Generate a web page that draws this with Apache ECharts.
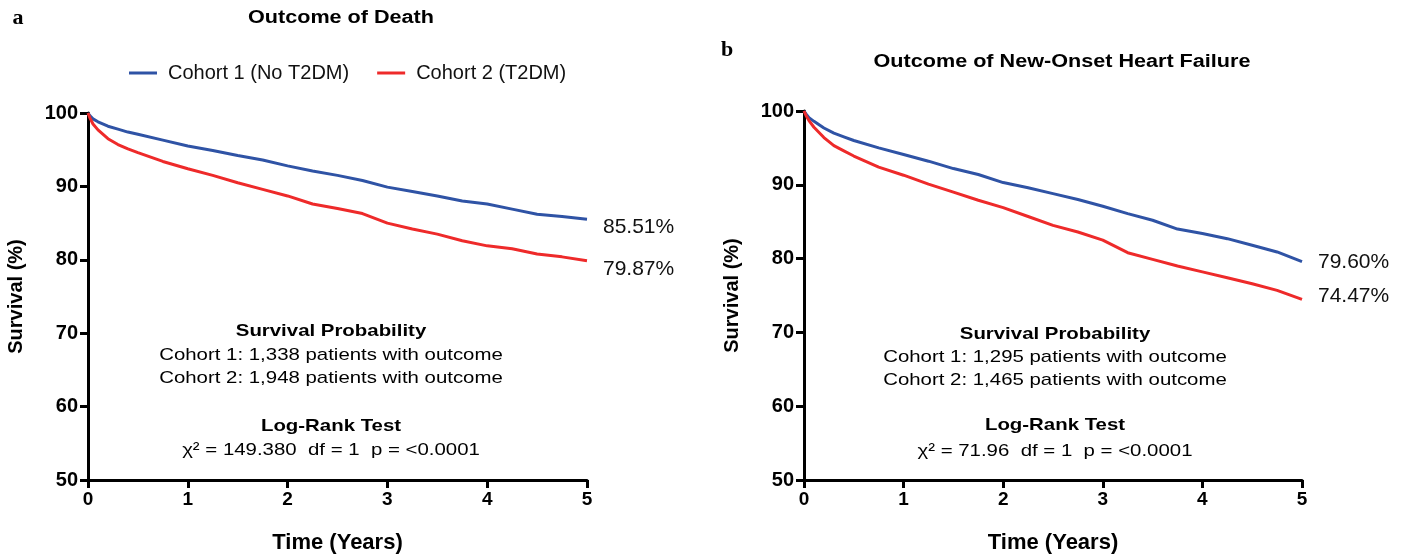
<!DOCTYPE html>
<html>
<head>
<meta charset="utf-8">
<script src="https://cdn.jsdelivr.net/npm/echarts@6/dist/echarts.min.js"></script>
<style>
html,body{margin:0;padding:0;background:#fff;}
#chart{width:1403px;height:559px;}
</style>
</head>
<body>
<div id="chart"></div>
<script>
const years = [0, 0.02, 0.05, 0.1, 0.2, 0.3, 0.4, 0.5, 0.75, 1.0, 1.25, 1.5, 1.75, 2.0, 2.25, 2.5, 2.75, 3.0, 3.25, 3.5, 3.75, 4.0, 4.25, 4.5, 4.75, 5.0];
const deathCohort1 = [100, 99.6, 99.2, 98.8, 98.2, 97.8, 97.4, 97.1, 96.3, 95.5, 94.9, 94.2, 93.6, 92.8, 92.1, 91.5, 90.8, 89.9, 89.3, 88.7, 88.0, 87.6, 86.9, 86.2, 85.9, 85.51];
const deathCohort2 = [100, 99.3, 98.5, 97.7, 96.5, 95.7, 95.1, 94.6, 93.4, 92.4, 91.5, 90.5, 89.6, 88.7, 87.6, 87.0, 86.3, 85.0, 84.2, 83.5, 82.6, 81.9, 81.5, 80.8, 80.4, 79.87];
const hfCohort1 = [100, 99.6, 99.1, 98.6, 97.7, 97.0, 96.5, 96.0, 95.0, 94.1, 93.2, 92.2, 91.4, 90.3, 89.6, 88.8, 88.0, 87.1, 86.1, 85.2, 84.0, 83.4, 82.7, 81.8, 80.9, 79.6];
const hfCohort2 = [100, 99.4, 98.7, 97.8, 96.4, 95.3, 94.6, 93.9, 92.4, 91.3, 90.1, 89.0, 87.9, 86.9, 85.7, 84.5, 83.6, 82.5, 80.8, 79.9, 79.0, 78.2, 77.4, 76.6, 75.7, 74.47];
const seriesNames = ['Cohort 1 (No T2DM)', 'Cohort 2 (T2DM)'];
const panelTitles = ['Outcome of Death', 'Outcome of New-Onset Heart Failure'];
const deathStats = ['Cohort 1: 1,338 patients with outcome', 'Cohort 2: 1,948 patients with outcome', 'χ² = 149.380  df = 1  p = <0.0001'];
const hfStats = ['Cohort 1: 1,295 patients with outcome', 'Cohort 2: 1,465 patients with outcome', 'χ² = 71.96  df = 1  p = <0.0001'];

const BLUE = '#2f53a5';
const RED = '#ee2a2a';
const FONT = '"Liberation Sans", Arial, sans-serif';

function pairs(v){ return years.map((t,i)=>[t, v[i]]); }

function xAx(gi){
  return {
    gridIndex: gi, type: 'value', min: 0, max: 5, interval: 1,
    name: 'Time (Years)', nameLocation: 'middle', nameGap: 52,
    nameTextStyle: {fontFamily: FONT, fontWeight: 'bold', fontSize: 22, color: '#000'},
    axisLine: {show: true, onZero: false, lineStyle: {color: '#000', width: 3}},
    axisTick: {show: true, length: 8, lineStyle: {color: '#000', width: 3}},
    axisLabel: {fontFamily: FONT, fontWeight: 'bold', fontSize: 19, color: '#000', margin: 10,
      alignMinLabel: 'center', alignMaxLabel: 'center'},
    splitLine: {show: false}
  };
}
function yAx(gi){
  return {
    gridIndex: gi, type: 'value', min: 50, max: 100, interval: 10,
    name: 'Survival (%)', nameLocation: 'middle', nameGap: 62, nameRotate: 90,
    nameTextStyle: {fontFamily: FONT, fontWeight: 'bold', fontSize: 20, color: '#000'},
    axisLine: {show: true, onZero: false, lineStyle: {color: '#000', width: 3}},
    axisTick: {show: true, length: 8, lineStyle: {color: '#000', width: 3}},
    axisLabel: {fontFamily: FONT, fontWeight: 'bold', fontSize: 20, color: '#000', margin: 10,
      verticalAlign: 'middle', verticalAlignMinLabel: 'middle', verticalAlignMaxLabel: 'middle', hideOverlap: false},
    splitLine: {show: false}
  };
}
function ser(name, data, gi, color, offset){
  return {
    name: name, type: 'line', xAxisIndex: gi, yAxisIndex: gi,
    data: pairs(data), showSymbol: false, smooth: false,
    lineStyle: {color: color, width: 3}, itemStyle: {color: color},
    emphasis: {disabled: true},
    endLabel: {show: true, offset: offset, fontFamily: FONT, fontSize: 21, color: '#111',
      formatter: p => p.value[1].toFixed(2) + '%'}
  };
}
function ctext(cx, cy, s, bold, size){
  return {type: 'text', x: cx, y: cy, scaleX: 1.2, style: {text: s, fill: '#000',
    font: (bold ? 'bold ' : '') + size + 'px ' + FONT, align: 'center', verticalAlign: 'middle'}};
}

const chart = echarts.init(document.getElementById('chart'));
chart.setOption({
  animation: false,
  backgroundColor: '#fff',
  grid: [
    {left: 88, top: 113, width: 499, height: 372},
    {left: 804, top: 111, width: 498, height: 374}
  ],
  xAxis: [xAx(0), xAx(1)],
  yAxis: [yAx(0), yAx(1)],
  legend: {
    data: seriesNames, left: 124, top: 58, itemWidth: 28, itemHeight: 3, itemGap: 28,
    icon: 'rect', textStyle: {fontFamily: FONT, fontSize: 20, color: '#111', padding: [0,0,0,6]}
  },
  series: [
    ser(seriesNames[0], deathCohort1, 0, BLUE, [8, 8]),
    ser(seriesNames[1], deathCohort2, 0, RED, [8, 8]),
    ser(seriesNames[0], hfCohort1, 1, BLUE, [8, 1]),
    ser(seriesNames[1], hfCohort2, 1, RED, [8, -3])
  ],
  graphic: [
    {type: 'text', x: 18, y: 18, style: {text: 'a', fill: '#000', font: 'bold 22px "Liberation Serif", serif', align: 'center', verticalAlign: 'middle'}},
    {type: 'text', x: 727, y: 50, style: {text: 'b', fill: '#000', font: 'bold 22px "Liberation Serif", serif', align: 'center', verticalAlign: 'middle'}},
    ctext(341, 18, panelTitles[0], true, 18),
    ctext(1062, 62, panelTitles[1], true, 18),
    ctext(331, 331, 'Survival Probability', true, 17),
    ctext(331, 355, deathStats[0], false, 17),
    ctext(331, 378, deathStats[1], false, 17),
    ctext(331, 426, 'Log-Rank Test', true, 17),
    ctext(331, 450, deathStats[2], false, 17),
    ctext(1055, 334, 'Survival Probability', true, 17),
    ctext(1055, 357, hfStats[0], false, 17),
    ctext(1055, 380, hfStats[1], false, 17),
    ctext(1055, 425, 'Log-Rank Test', true, 17),
    ctext(1055, 451, hfStats[2], false, 17)
  ]
});
</script>
</body>
</html>
